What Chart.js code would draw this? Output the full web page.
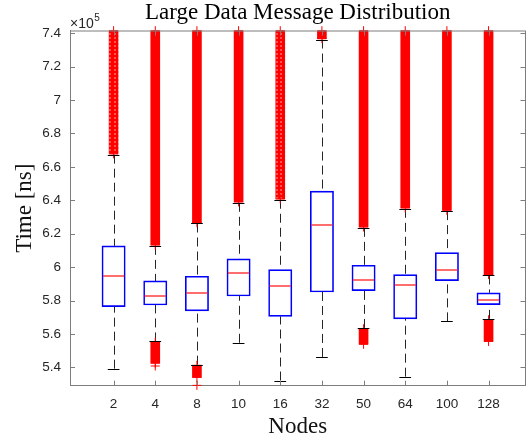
<!DOCTYPE html>
<html>
<head>
<meta charset="utf-8">
<script src="https://cdn.jsdelivr.net/npm/chart.js@4/dist/chart.umd.min.js"></script>
<style>
  html, body { margin: 0; padding: 0; background: #fff; }
  canvas { display: block; }
</style>
</head>
<body>
<canvas id="chart" width="531" height="441" style="width:531px;height:441px"></canvas>
<script>
// Node counts along the x axis
const nodes = ['2', '4', '8', '10', '16', '32', '50', '64', '100', '128'];

// Box statistics per node count, in ns
const q1          = [576300, 577300, 573800, 582700, 570500, 585100, 585900, 569000, 591900, 577500];
const medians     = [594900, 582900, 584300, 596500, 588700, 625300, 592500, 589300, 598300, 580300];
const q3          = [612700, 591700, 594500, 604900, 598500, 645500, 601100, 595500, 608700, 584600];
const whiskerLow  = [539200, 555500, 541600, 554700, 532100, 546200, 563600, 534400, 567500, 569000];
const whiskerHigh = [667300, 612700, 626100, 638500, 640300, 736200, 623500, 634900, 633500, 595000];

// Outlier runs (dense enough to read as solid columns), in ns; null = none
const upperOutlierFrom = [667800, 613200, 626600, 639000, 640800, 736700, 624000, 635400, 634000, 595500];
const upperOutlierTo   = [741500, 741500, 741500, 741500, 741500, 741500, 741500, 741500, 741500, 741500];
const lowerOutlierFrom = [null, 542500, 534000, null, null, null, 553800, null, null, 555500];
const lowerOutlierTo   = [null, 555000, 541200, null, null, null, 563100, null, null, 568500];

// Isolated outliers below the runs: [node index, value in ns]
const strayOutliers = [[1, 540800], [2, 529200]];

// Y axis tick values, in ns
const yTicks = [540000, 560000, 580000, 600000, 620000, 640000, 660000, 680000, 700000, 720000, 740000];

const AXIS_COLOR = '#7d7d7d';
const TEXT_COLOR = '#262626';
const SERIF = '"Liberation Serif", "Times New Roman", serif';
const SANS = '"Liberation Sans", Arial, Helvetica, sans-serif';
const BOX_W = 23.3;   // px
const CAP_W = 11.7;   // px
const BAND_W = 9;     // px

// Lighter, speckled fill for the sparser outlier columns
function speckle() {
  const c = document.createElement('canvas');
  c.width = 9; c.height = 4;
  const g = c.getContext('2d');
  g.fillStyle = 'rgb(255,0,0)'; g.fillRect(0, 0, 9, 4);
  g.fillStyle = 'rgb(255,80,80)';
  g.fillRect(1, 1, 2, 2);
  g.fillRect(6, 1, 2, 2);
  return g.createPattern(c, 'repeat');
}
const speckleFill = speckle();
const sparseColumns = [0, 4];

const boxData = nodes.map((_, i) => ({ x: i + 1, y: [q1[i], q3[i]] }));
const upperBandData = nodes.map((_, i) => ({ x: i + 1, y: [upperOutlierFrom[i], upperOutlierTo[i]] }));
const lowerBandData = nodes.map((_, i) => lowerOutlierFrom[i] === null ? null
  : ({ x: i + 1, y: [lowerOutlierFrom[i], lowerOutlierTo[i]] })).filter(Boolean);

const markerData = [];
nodes.forEach((_, i) => {
  markerData.push({ x: i + 1, y: upperOutlierFrom[i] }, { x: i + 1, y: upperOutlierTo[i] });
  if (lowerOutlierFrom[i] !== null) {
    markerData.push({ x: i + 1, y: lowerOutlierFrom[i] }, { x: i + 1, y: lowerOutlierTo[i] });
  }
});
strayOutliers.forEach(([i, v]) => markerData.push({ x: i + 1, y: v }));

function hline(ctx, x0, x1, y) { ctx.beginPath(); ctx.moveTo(x0, y); ctx.lineTo(x1, y); ctx.stroke(); }
function vline(ctx, x, y0, y1) { ctx.beginPath(); ctx.moveTo(x, y0); ctx.lineTo(x, y1); ctx.stroke(); }
const crisp = v => Math.round(v) + 0.5;

const boxplotParts = {
  id: 'boxplotParts',
  beforeDatasetsDraw(chart) {
    const { ctx, scales: { x, y } } = chart;
    ctx.save();
    ctx.strokeStyle = 'rgba(0,0,0,0.85)';
    ctx.lineWidth = 1;
    ctx.setLineDash([9, 5]);
    nodes.forEach((_, i) => {
      const px = crisp(x.getPixelForValue(i + 1));
      vline(ctx, px, y.getPixelForValue(whiskerHigh[i]), y.getPixelForValue(q3[i]));
      vline(ctx, px, y.getPixelForValue(whiskerLow[i]), y.getPixelForValue(q1[i]));
    });
    ctx.restore();
  },
  afterDatasetsDraw(chart) {
    const { ctx, chartArea: a, scales: { x, y } } = chart;
    ctx.save();
    nodes.forEach((_, i) => {
      const px = x.getPixelForValue(i + 1);
      ctx.lineWidth = 1;
      ctx.strokeStyle = '#000';
      hline(ctx, px - CAP_W / 2, px + CAP_W / 2, crisp(y.getPixelForValue(whiskerHigh[i])));
      hline(ctx, px - CAP_W / 2, px + CAP_W / 2, crisp(y.getPixelForValue(whiskerLow[i])));
      ctx.lineWidth = 1.3;
      ctx.strokeStyle = '#ff2020';
      hline(ctx, px - BOX_W / 2 + 1, px + BOX_W / 2 - 1, Math.round(y.getPixelForValue(medians[i])));
    });

    // frame and inward tick marks
    ctx.strokeStyle = AXIS_COLOR;
    ctx.lineWidth = 1;
    hline(ctx, a.left, a.right, crisp(a.top) - 0.5);
    vline(ctx, crisp(a.right) - 1, a.top, a.bottom);
    const L = 5;
    yTicks.forEach(v => {
      const py = crisp(y.getPixelForValue(v));
      hline(ctx, a.left, a.left + L, py);
      hline(ctx, a.right - L, a.right, py);
    });
    nodes.forEach((_, i) => {
      const px = crisp(x.getPixelForValue(i + 1));
      vline(ctx, px, a.bottom, a.bottom - L);
      vline(ctx, px, a.top, a.top + L);
    });

    // exponent label
    ctx.fillStyle = TEXT_COLOR;
    ctx.textBaseline = 'alphabetic';
    ctx.textAlign = 'left';
    ctx.font = '14px ' + SANS;
    ctx.fillText('\u00d710', a.left, 28.3);
    const w = ctx.measureText('\u00d710').width;
    ctx.font = '10px ' + SANS;
    ctx.fillText('5', a.left + w + 0.5, 20.5);

    // title
    ctx.fillStyle = '#000';
    ctx.font = '23px ' + SERIF;
    ctx.textAlign = 'center';
    ctx.fillText('Large Data Message Distribution', (a.left + a.right) / 2, 18.5);
    ctx.restore();
  }
};

const tickFont = { family: SANS, size: 13.5 };
const titleFont = { family: SERIF, size: 23 };

new Chart(document.getElementById('chart'), {
  type: 'bar',
  data: {
    datasets: [
      {
        type: 'bar',
        data: boxData,
        grouped: false,
        barThickness: BOX_W,
        backgroundColor: 'rgba(0,0,0,0)',
        borderColor: '#0000ff',
        borderWidth: 1,
        borderSkipped: false,
        order: 1
      },
      {
        type: 'bar',
        data: upperBandData,
        grouped: false,
        barThickness: BAND_W,
        backgroundColor: nodes.map((_, i) => sparseColumns.includes(i) ? speckleFill : '#ff0000'),
        borderWidth: 0,
        order: 2
      },
      {
        type: 'bar',
        data: lowerBandData,
        grouped: false,
        barThickness: BAND_W,
        backgroundColor: '#ff0000',
        borderWidth: 0,
        order: 2
      },
      {
        type: 'scatter',
        data: markerData,
        pointStyle: 'cross',
        pointRadius: 4.5,
        pointHoverRadius: 4.5,
        borderColor: '#ff0000',
        backgroundColor: '#ff0000',
        borderWidth: 1,
        clip: false,
        order: 0
      }
    ]
  },
  options: {
    responsive: false,
    animation: false,
    events: [],
    layout: { padding: { top: 30.7, right: 1.7, left: 0, bottom: 0 } },
    plugins: { legend: { display: false }, tooltip: { enabled: false }, title: { display: false } },
    scales: {
      x: {
        type: 'linear',
        min: 0.5,
        max: 10.34,
        afterFit(s) { s.height = 55.3; },
        afterBuildTicks(s) { s.ticks = nodes.map((_, i) => ({ value: i + 1 })); },
        ticks: {
          callback: v => nodes[v - 1],
          font: tickFont,
          color: TEXT_COLOR,
          padding: 10.5,
          maxRotation: 0,
          autoSkip: false
        },
        grid: { display: false, drawTicks: false },
        border: { display: true, color: AXIS_COLOR, width: 1 },
        title: { display: true, text: 'Nodes', font: titleFont, color: '#111', padding: { top: 0, bottom: 0 } }
      },
      y: {
        min: 529000,
        max: 741500,
        afterFit(s) { s.width = 70; },
        afterBuildTicks(s) { s.ticks = yTicks.map(v => ({ value: v })); },
        ticks: {
          callback: v => String(+(v / 1e5).toFixed(1)),
          font: tickFont,
          color: TEXT_COLOR,
          padding: 9
        },
        grid: { display: false, drawTicks: false },
        border: { display: true, color: AXIS_COLOR, width: 1 },
        title: { display: true, text: 'Time [ns]', font: titleFont, color: '#111', padding: { top: 11.6, bottom: 0 } }
      }
    }
  },
  plugins: [boxplotParts]
});
</script>
</body>
</html>
